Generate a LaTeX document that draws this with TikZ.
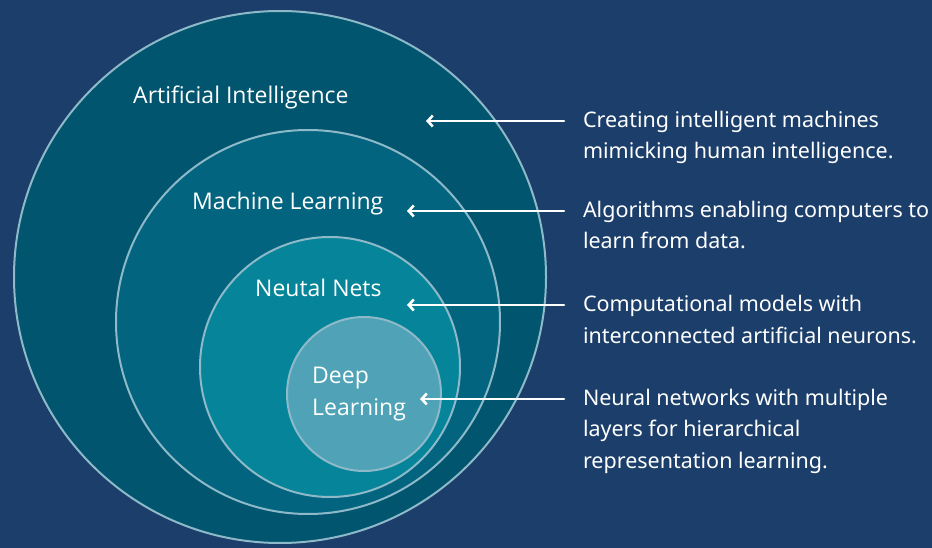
\documentclass[tikz,border=0pt]{standalone}
\usepackage{fontspec}
\setmainfont{Open Sans}
\newfontfamily\notefont{Noto Sans}
\usetikzlibrary{arrows.meta}

\definecolor{navy}{HTML}{1B3E6A}
\definecolor{aiteal}{HTML}{02556E}
\definecolor{mlteal}{HTML}{036480}
\definecolor{nnteal}{HTML}{068499}
\definecolor{dlteal}{HTML}{50A3B6}
\definecolor{rim}{HTML}{8DB9C9}

\begin{document}
\begin{tikzpicture}[x=1pt, y=-1pt, line cap=round, line join=round,
	ring/.style={circle, draw=rim, line width=2pt, inner sep=0pt},
	ringtext/.style={text=white, font=\fontsize{23}{32}\selectfont, align=left, inner sep=0pt, anchor=base west},
	blurb/.style={text=white, font=\notefont\fontsize{21.5}{31.5}\selectfont, align=left, inner sep=0pt, outer xsep=19pt, anchor=base west},
	pointer/.style={-{Straight Barb[length=5pt, width=11pt]}, white, line width=2.6pt}]
	%Background
	\fill[navy] (0,0) rectangle (932,548);
	\useasboundingbox (0,0) rectangle (932,548);

	%Nested circles
	\node[ring, fill=aiteal, minimum size=532pt] (ai) at (280,277) {};
	\node[ring, fill=mlteal, minimum size=384pt] (ml) at (308,322) {};
	\node[ring, fill=nnteal, minimum size=260pt] (nn) at (330,367) {};
	\node[ring, fill=dlteal, minimum size=154pt] (dl) at (364,394) {};

	%Circle names (base = last line)
	\node[ringtext] (aiName) at (133,104) {Artificial Intelligence};
	\node[ringtext] (mlName) at (192,210) {Machine Learning};
	\node[ringtext] (nnName) at (255,297) {Neutal Nets};
	\node[ringtext] (dlName) at (312,415) {Deep\\Learning};

	%Descriptions
	\node[blurb] (aiNote) at (564,159) {Creating intelligent machines\\mimicking human intelligence.};
	\node[blurb] (mlNote) at (564,249) {Algorithms enabling computers to\\learn from data.};
	\node[blurb] (nnNote) at (564,343) {Computational models with\\interconnected artificial neurons.};
	\node[blurb] (dlNote) at (564,468) {Neural networks with multiple\\layers for hierarchical\\representation learning.};

	%Arrow tips
	\coordinate (aiTip) at (426,121);
	\coordinate (mlTip) at (407,211);
	\coordinate (nnTip) at (407,305);
	\coordinate (dlTip) at (420,399);

	%Arrows
	\draw[pointer] (aiNote.west |- aiTip) -- (aiTip);
	\draw[pointer] (mlNote.west |- mlTip) -- (mlTip);
	\draw[pointer] (nnNote.west |- nnTip) -- (nnTip);
	\draw[pointer] (dlNote.west |- dlTip) -- (dlTip);

\end{tikzpicture}
\end{document}
